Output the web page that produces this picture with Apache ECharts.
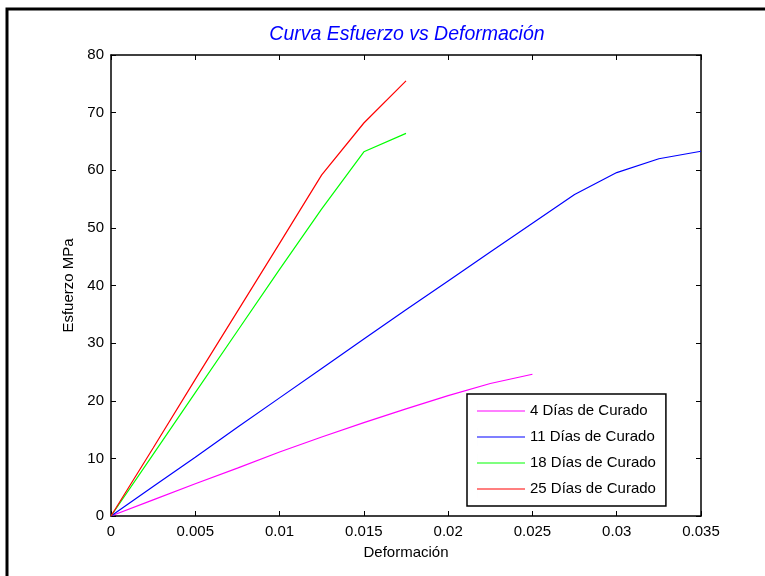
<!DOCTYPE html>
<html>
<head>
<meta charset="utf-8">
<script src="https://cdn.jsdelivr.net/npm/echarts@6/dist/echarts.min.js"></script>
<style>
  html, body { margin: 0; padding: 0; background: #fff; }
  #chart { width: 765px; height: 576px; }
</style>
</head>
<body>
<div id="chart"></div>
<script>
// deformacion (strain) sampled every 0.0025
const deformacion = [0, 0.0025, 0.005, 0.0075, 0.01, 0.0125, 0.015, 0.0175,
  0.02, 0.0225, 0.025, 0.0275, 0.03, 0.0325, 0.035];

// esfuerzo MPa for each curing age
const dias4 = [0, 2.8, 5.6, 8.3, 11.1, 13.7, 16.2, 18.6, 20.9, 23.0, 24.6];
const dias11 = [0, 5.1, 10.2, 15.4, 20.5, 25.6, 30.7, 35.8, 40.8, 45.8, 50.8, 55.8, 59.6, 62.0, 63.3];
const dias18 = [0, 10.7, 21.4, 32.1, 42.8, 53.3, 63.2, 66.4];
const dias25 = [0, 11.8, 23.7, 35.5, 47.3, 59.2, 68.2, 75.5];

const nombres = ["4 Días de Curado", "11 Días de Curado", "18 Días de Curado", "25 Días de Curado"];
const colores = ["#ff00ff", "#0000ff", "#00ff00", "#ff0000"];

const xTicks = [0, 0.005, 0.01, 0.015, 0.02, 0.025, 0.03, 0.035];
const yTicks = [0, 10, 20, 30, 40, 50, 60, 70, 80];

const font = "Liberation Sans, Arial, sans-serif";

function pares(ys) {
  return ys.map((y, i) => [deformacion[i], y]);
}

const chart = echarts.init(document.getElementById("chart"));

const tickInside = { show: true, inside: true, length: 5, lineStyle: { color: "#000", width: 1 } };

// plain line for legend samples (the tiny first box only keeps the height)
const lineIcon = "path://M0,0 L0.01,0 L0.01,18 L0,18 Z M0,8.4 L48,8.4 L48,9.6 L0,9.6 Z";

chart.setOption({
  animation: false,
  backgroundColor: "#fff",
  title: {
    text: "Curva Esfuerzo vs Deformación",
    left: 402,
    textAlign: "center",
    top: 20,
    textStyle: { color: "#0000ff", fontStyle: "italic", fontWeight: "normal", fontSize: 19.5, fontFamily: font }
  },
  grid: { left: 111, right: 64, top: 55, bottom: 60 },
  legend: {
    orient: "vertical",
    left: 467,
    top: 394,
    data: nombres,
    icon: lineIcon,
    itemWidth: 48,
    itemHeight: 18,
    itemGap: 8,
    padding: [8, 10, 8, 10],
    borderColor: "#000",
    borderWidth: 1.5,
    backgroundColor: "#fff",
    borderRadius: 0,
    textStyle: { color: "#000", fontSize: 15, fontFamily: font, lineHeight: 18 }
  },
  xAxis: [
    {
      type: "value",
      min: xTicks[0],
      max: xTicks[xTicks.length - 1],
      interval: 0.005,
      name: "Deformación",
      nameLocation: "middle",
      nameGap: 29,
      nameTextStyle: { color: "#000", fontSize: 15, fontFamily: font },
      axisLine: { show: true, onZero: false, lineStyle: { color: "#000", width: 1.5 } },
      axisTick: tickInside,
      axisLabel: {
        color: "#000", fontSize: 15, fontFamily: font, margin: 8,
        formatter: v => String(+v.toFixed(3))
      },
      splitLine: { show: false }
    },
    {
      type: "value",
      position: "top",
      min: xTicks[0],
      max: xTicks[xTicks.length - 1],
      interval: 0.005,
      axisLine: { show: true, onZero: false, lineStyle: { color: "#000", width: 1.5 } },
      axisTick: tickInside,
      axisLabel: { show: false },
      splitLine: { show: false }
    }
  ],
  yAxis: [
    {
      type: "value",
      min: yTicks[0],
      max: yTicks[yTicks.length - 1],
      interval: 10,
      name: "Esfuerzo MPa",
      nameLocation: "middle",
      nameGap: 31,
      nameTextStyle: { color: "#000", fontSize: 15, fontFamily: font },
      axisLine: { show: true, onZero: false, lineStyle: { color: "#000", width: 1.5 } },
      axisTick: tickInside,
      axisLabel: { color: "#000", fontSize: 15, fontFamily: font, margin: 7 },
      splitLine: { show: false }
    },
    {
      type: "value",
      position: "right",
      min: yTicks[0],
      max: yTicks[yTicks.length - 1],
      interval: 10,
      axisLine: { show: true, onZero: false, lineStyle: { color: "#000", width: 1.5 } },
      axisTick: tickInside,
      axisLabel: { show: false },
      splitLine: { show: false }
    }
  ],
  graphic: [
    {
      type: "rect",
      shape: { x: 7, y: 9, width: 800, height: 600 },
      style: { fill: "none", stroke: "#000", lineWidth: 3 },
      silent: true
    }
  ],
  series: [dias4, dias11, dias18, dias25].map((ys, i) => ({
    name: nombres[i],
    type: "line",
    data: pares(ys),
    symbol: "none",
    color: colores[i],
    lineStyle: { width: 1.2, color: colores[i] }
  }))
});
</script>
</body>
</html>
